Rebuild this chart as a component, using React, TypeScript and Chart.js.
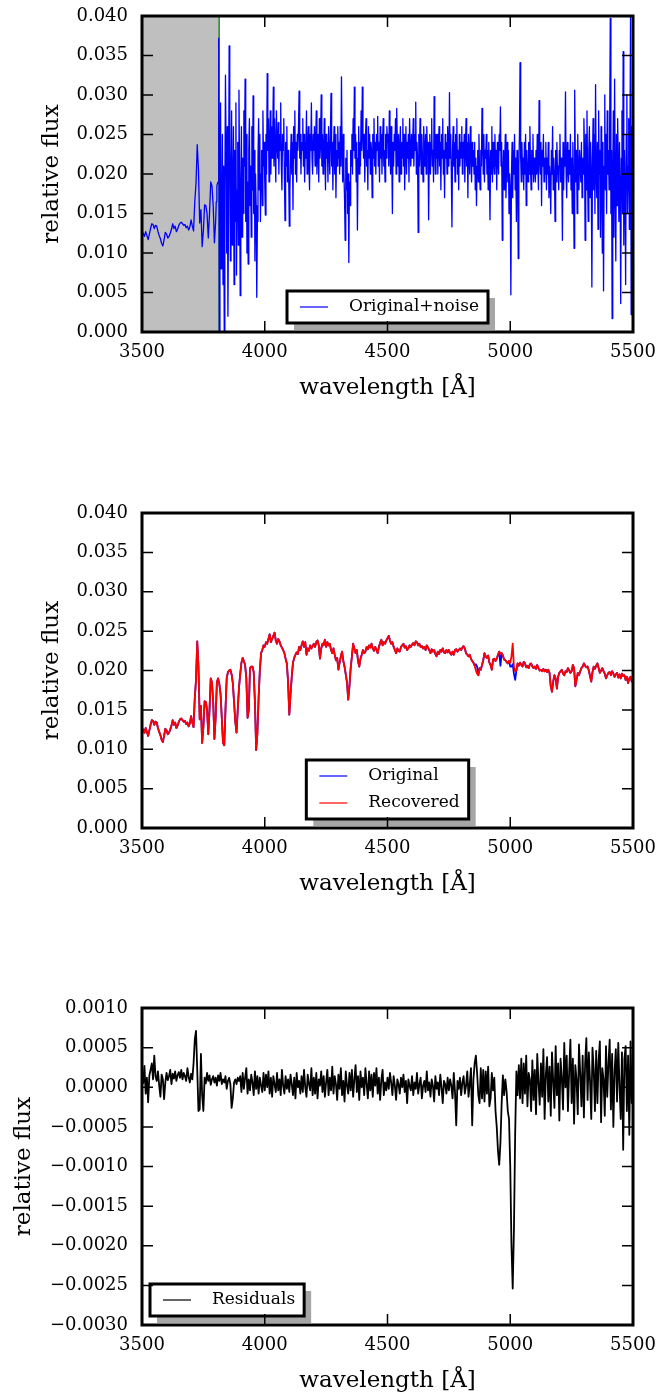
import React, { useEffect, useRef } from 'react';
import { Chart, registerables } from 'chart.js';

Chart.register(...registerables);

const FONT = "'DejaVu Serif', serif";

// Wavelength sampling grids (Å)
function grid(start: number, end: number, step: number): number[] {
  const n = Math.round((end - start) / step) + 1;
  return Array.from({ length: n }, (_, i) => start + step * i);
}
const wavelengths = grid(3500, 5500, 5); // 401 samples (panels 2, 3)
const maskedWavelengths = grid(3500, 3800, 5); // 61 samples (panel 1, noise-free part)
const noisyWavelengths = grid(3802.5, 5500, 2.5); // 680 samples (panel 1, noisy part)

// flux values are stored in units of 1e-4, residuals in units of 1e-5
const FLUX_UNIT = 1e-4;
const RESID_UNIT = 1e-5;

// Panel 1: masked (noise-free) part, 3500–3800 Å every 5 Å
const maskedFlux: number[] = [
  124,125,121,127,122,117,124,131,137,136, // 3500
  131,135,134,127,122,118,112,109,117,126, // 3550
  124,119,121,125,130,137,131,134,127,130, // 3600
  135,138,139,137,135,136,132,134,129,133, // 3650
  142,134,128,165,188,237,205,138,155,108, // 3700
  128,161,160,150,119,150,190,185,160,113, // 3750
  140, // 3800
];

// Panel 1: original + noise, 3802.5–5500 Å every 2.5 Å (20 values per row = 50 Å)
const noisyFlux: number[] = [
  165,185,188,190,372,0,240,290,80,130,250,60,210,0,180,325,230,100,260,20, // 3802.5
  150,362,240,90,200,280,110,170,260,60,230,140,290,72,180,240,110,306,200,46, // 3852.5
  180,260,120,220,150,280,210,320,140,250,100,190,86,230,270,160,210,120,260,180, // 3902.5
  299,150,230,90,200,160,44,140,220,270,180,250,140,200,230,160,280,210,240,190, // 3952.5
  148,250,200,327,230,270,190,240,280,200,260,220,250,310,210,270,230,190,280,240, // 4002.5
  220,265,200,250,230,290,210,180,250,230,270,200,141,240,210,260,190,230,200,134, // 4052.5
  180,220,250,200,240,155,260,220,280,200,240,190,250,230,260,305,220,250,200,240, // 4102.5
  230,270,210,250,190,240,220,280,200,230,260,210,180,250,230,290,220,200,250,230, // 4152.5
  260,210,240,280,200,230,250,190,270,220,240,300,210,250,200,230,270,220,180,250, // 4202.5
  220,240,190,260,230,200,250,302,210,240,180,230,260,200,250,170,230,210,260,220, // 4252.5
  240,200,260,210,323,230,190,250,200,170,116,220,180,230,150,200,88,190,160,230, // 4302.5
  210,250,200,270,230,310,220,250,190,240,129,220,260,200,240,210,280,230,310,250, // 4352.5
  220,250,190,240,270,210,230,180,260,220,250,200,240,230,170,250,220,270,210,240, // 4402.5
  200,250,230,273,210,240,190,260,220,250,200,240,270,210,230,190,250,220,260,240, // 4452.5
  250,210,280,230,200,260,220,150,240,210,250,230,270,200,283,240,210,250,190,230, // 4502.5
  260,200,240,220,270,210,250,180,230,260,200,240,220,250,190,270,230,210,250,220, // 4552.5
  240,270,210,250,230,291,200,240,220,126,250,210,270,230,200,250,220,190,260,230, // 4602.5
  210,250,200,260,230,240,142,220,250,200,240,270,210,230,190,298,240,200,250,220, // 4652.5
  250,200,230,260,210,240,180,250,220,270,200,230,170,250,220,240,200,260,230,210, // 4702.5
  303,220,250,200,133,230,260,210,240,190,250,220,270,200,230,180,250,210,240,220, // 4752.5
  260,200,240,220,250,190,230,270,210,240,170,250,220,200,260,230,190,240,210,230, // 4802.5
  200,240,180,220,160,210,230,190,250,200,180,230,210,283,240,200,250,190,230,220, // 4852.5
  250,200,230,180,240,210,142,230,200,260,190,240,220,200,250,210,230,180,240,220, // 4902.5
  200,250,230,285,210,240,116,200,230,180,220,250,170,210,240,190,230,150,200,180, // 4952.5
  47,200,240,170,230,200,250,180,220,140,230,200,93,210,250,341,220,190,240,200, // 5002.5
  220,180,240,200,250,160,230,210,190,240,200,260,210,180,230,200,250,190,220,210, // 5052.5
  190,230,200,250,210,180,293,220,200,240,160,230,210,250,190,220,200,240,180,220, // 5102.5
  200,240,170,210,190,150,230,200,260,180,220,200,140,230,190,240,200,210,180,230, // 5152.5
  250,190,220,200,116,240,180,230,210,304,200,170,240,210,190,230,200,250,180,220, // 5202.5
  150,240,200,106,306,220,190,230,150,250,200,180,230,210,190,240,170,220,200,270, // 5252.5
  230,116,250,180,280,200,140,230,260,170,240,200,57,220,270,180,250,150,313,200, // 5302.5
  170,240,130,280,200,230,120,260,190,100,240,52,210,300,180,250,150,280,200,230, // 5352.5
  180,260,397,150,230,17,200,280,120,320,190,90,250,160,270,210,140,240,180,36, // 5402.5
  220,280,150,355,110,230,180,60,250,300,150,210,270,130,230,400,22,260,180,240, // 5452.5
];

// Panel 2: original (noise-free) spectrum, every 5 Å
const originalFlux: number[] = [
  124,125,121,127,122,117,124,131,137,136, // 3500
  131,135,134,127,122,118,112,109,117,126, // 3550
  124,119,121,125,130,137,131,134,127,130, // 3600
  135,138,139,137,135,136,132,134,129,133, // 3650
  142,134,128,165,188,237,205,138,155,108, // 3700
  128,161,160,150,119,150,190,185,160,113, // 3750
  140,185,190,183,170,140,108,105,150,190, // 3800
  198,200,201,195,184,160,135,121,150,178, // 3850
  195,210,216,212,207,190,140,150,203,205, // 3900
  205,198,160,99,120,165,200,222,226,232, // 3950
  230,236,234,240,246,236,240,244,248,238, // 4000
  234,240,237,232,229,226,222,215,209,185, // 4050
  144,170,192,210,216,220,223,221,230,226, // 4100
  232,237,230,236,220,228,225,232,228,231, // 4150
  234,230,236,238,232,215,228,234,232,239, // 4200
  230,236,232,234,226,222,228,220,213,216, // 4250
  201,210,218,224,212,205,195,185,163,180, // 4300
  203,218,234,228,222,226,212,205,215,220, // 4350
  226,222,224,230,227,232,229,234,228,225, // 4400
  230,226,222,230,235,239,232,236,234,238, // 4450
  241,244,238,234,236,230,226,222,228,225, // 4500
  224,230,232,234,229,231,226,228,232,230, // 4550
  233,235,232,237,236,232,234,230,231,228, // 4600
  230,226,232,229,226,222,227,224,226,221, // 4650
  218,224,221,226,224,228,223,222,226,223, // 4700
  226,222,220,224,220,226,227,224,226,228, // 4750
  226,229,231,228,222,220,218,220,215,212, // 4800
  210,206,208,205,194,203,201,207,213,222, // 4850
  218,216,219,210,207,201,214,215,212,215, // 4900
  220,224,206,222,219,214,213,211,209,212, // 4950
  205,205,208,196,188,200,209,206,210,207, // 5000
  205,211,209,204,206,203,208,209,205,203, // 5050
  205,202,207,203,200,201,199,202,199,201, // 5100
  198,201,197,180,173,186,194,190,177,192, // 5150
  197,199,201,196,194,199,198,203,200,197, // 5200
  199,207,203,180,188,197,194,199,203,205, // 5250
  209,206,204,205,200,193,186,198,205,202, // 5300
  206,209,203,197,200,203,199,196,190,194, // 5350
  197,198,194,199,196,192,195,197,191,195, // 5400
  190,196,193,194,188,192,184,190,192,186, // 5450
  190, // 5500
];

// Panel 2: recovered spectrum, every 5 Å
const recoveredFlux: number[] = [
  124,125,121,127,122,117,124,131,137,136, // 3500
  131,135,134,127,122,118,112,109,117,126, // 3550
  124,119,121,125,130,137,131,134,127,130, // 3600
  135,138,139,137,135,136,132,134,129,133, // 3650
  142,134,128,165,188,237,205,138,155,108, // 3700
  128,161,160,150,119,150,190,185,160,113, // 3750
  140,185,190,183,170,140,108,105,150,190, // 3800
  198,200,201,195,184,160,135,121,150,178, // 3850
  195,210,216,212,207,190,140,150,203,205, // 3900
  205,198,160,99,120,165,200,222,226,232, // 3950
  230,236,234,240,246,236,240,244,248,238, // 4000
  234,240,237,232,229,226,222,215,209,185, // 4050
  144,170,192,210,216,220,223,221,230,226, // 4100
  232,237,230,236,220,228,225,232,228,231, // 4150
  234,230,236,238,232,215,228,234,232,239, // 4200
  230,236,232,234,226,222,228,220,213,216, // 4250
  201,210,218,224,212,205,195,185,163,180, // 4300
  203,218,234,228,222,226,212,205,215,220, // 4350
  226,222,224,230,227,232,229,234,228,225, // 4400
  230,226,222,230,235,239,232,236,234,238, // 4450
  241,244,238,234,236,230,226,222,228,225, // 4500
  224,230,232,234,229,231,226,228,232,230, // 4550
  233,235,232,237,236,232,234,230,231,228, // 4600
  230,226,232,229,226,222,227,224,226,221, // 4650
  218,224,221,226,224,228,223,222,226,223, // 4700
  226,222,220,224,220,226,227,224,226,228, // 4750
  226,229,231,228,222,220,218,220,215,212, // 4800
  210,206,200,196,194,203,201,207,213,222, // 4850
  218,216,219,210,207,201,214,215,212,215, // 4900
  220,224,222,222,219,214,213,211,209,212, // 4950
  210,218,234,205,199,200,209,206,210,207, // 5000
  205,211,209,204,206,203,208,209,205,203, // 5050
  205,202,207,203,200,201,199,202,199,201, // 5100
  198,201,197,180,173,186,194,190,177,192, // 5150
  197,199,201,196,194,199,198,203,200,197, // 5200
  199,207,203,180,188,197,194,199,203,205, // 5250
  209,206,204,205,200,193,186,198,205,202, // 5300
  206,209,203,197,200,203,199,196,190,194, // 5350
  197,198,194,199,196,192,195,197,191,195, // 5400
  190,196,193,194,188,192,184,190,192,186, // 5450
  190, // 5500
];

// Panel 3: residuals (units of 1e-5), every 5 Å
const residuals: number[] = [
  18,5,27,-8,12,-19,15,22,30,10, // 3500
  40,14,8,20,2,-12,16,10,-15,6, // 3550
  18,9,14,22,4,17,11,20,8,15, // 3600
  19,12,22,10,18,14,8,24,13,6, // 3650
  17,10,30,60,71,22,-30,-28,42,-10, // 3700
  -30,12,5,18,8,15,3,10,14,6, // 3750
  12,2,15,8,18,4,10,6,14,-2, // 3800
  8,12,4,-26,-14,6,10,4,12,8, // 3850
  14,-6,18,-2,12,24,-8,10,-4,16, // 3900
  6,-10,20,-2,14,-8,12,2,-6,18, // 3950
  -4,16,0,20,-8,12,-12,14,4,-6, // 4000
  18,-4,10,-10,22,2,-8,14,-2,10, // 4050
  -6,16,4,-10,12,-14,18,0,8,-8, // 4100
  14,-6,22,0,-12,16,4,-4,24,-10, // 4150
  12,-8,18,-14,10,2,20,-6,14,-12, // 4200
  6,22,-10,12,-4,26,-8,14,4,-16, // 4250
  16,-2,24,-10,8,-18,20,2,-8,18, // 4300
  -4,22,-12,10,28,-6,14,-16,20,0, // 4350
  12,-10,24,4,-14,20,-4,16,-12,18, // 4400
  2,24,-8,12,-16,10,22,-10,6,-4, // 4450
  12,-2,18,6,-10,14,2,-16,10,4, // 4500
  -8,12,0,16,-6,8,-20,10,2,-4, // 4550
  14,-10,6,-2,18,-8,4,12,-14,2, // 4600
  8,-6,20,-4,6,-12,10,2,-18,14, // 4650
  -2,6,-10,16,0,-20,8,4,-8,12, // 4700
  -4,10,2,-14,18,-6,-48,8,-2,12, // 4750
  -10,6,14,-8,2,20,-12,4,24,-48, // 4800
  10,30,40,18,-10,-20,24,-14,22,-18, // 4850
  20,-8,26,-24,-14,18,-4,12,-30,-50, // 4900
  -80,-98,-70,-20,15,-10,10,-5,-30,-40, // 4950
  -100,-200,-254,-180,-60,20,-10,28,-14,36, // 5000
  -20,30,-8,40,-24,18,10,-30,34,-16, // 5050
  22,-34,42,6,-22,30,-12,48,-40,16, // 5100
  38,-18,26,-36,44,8,-26,52,-10,30, // 5150
  -42,36,12,-28,56,0,40,-30,20,60, // 5200
  -20,36,-46,28,10,-34,54,18,-24,40, // 5250
  -38,30,62,-16,44,8,-40,50,22,-30, // 5300
  46,-20,34,58,-44,24,10,-36,52,-12, // 5350
  30,60,-28,42,-50,20,48,-18,56,2, // 5400
  -40,44,-79,36,52,-30,40,-60,58,-20, // 5450
  30, // 5500
];

// Ticks
const xTicks = [3500, 4000, 4500, 5000, 5500];
const xTickLabels = ['3500', '4000', '4500', '5000', '5500'];
const fluxTicks = [0, 0.005, 0.01, 0.015, 0.02, 0.025, 0.03, 0.035, 0.04];
const fluxTickLabels = ['0.000', '0.005', '0.010', '0.015', '0.020', '0.025', '0.030', '0.035', '0.040'];
const residTicks = [-0.003, -0.0025, -0.002, -0.0015, -0.001, -0.0005, 0, 0.0005, 0.001];
const residTickLabels = ['\u22120.0030', '\u22120.0025', '\u22120.0020', '\u22120.0015', '\u22120.0010', '\u22120.0005', '0.0000', '0.0005', '0.0010'];

// Masked region in panel 1 (Å)
const MASK_END = 3811;
const MARKER_WL = 3814;

const TICK_FONT = 18;
const TITLE_FONT = 23;
const LEGEND_FONT = 17;

const framePlugin = {
  id: 'frame',
  beforeDatasetsDraw(chart: any, _args: any, opts: any) {
    if (opts.maskEnd == null) return;
    const { ctx, chartArea: a } = chart;
    const xs = chart.scales.x;
    const xe = xs.getPixelForValue(opts.maskEnd);
    ctx.save();
    ctx.fillStyle = '#bfbfbf';
    ctx.fillRect(a.left, a.top, xe - a.left, a.bottom - a.top);
    const xm = xs.getPixelForValue(opts.marker);
    ctx.strokeStyle = '#1e7a1e';
    ctx.lineWidth = 1.5;
    ctx.beginPath();
    ctx.moveTo(xm, a.top);
    ctx.lineTo(xm, a.bottom);
    ctx.stroke();
    ctx.restore();
  },
  afterDraw(chart: any, _args: any, opts: any) {
    const { ctx, chartArea: a } = chart;
    const xs = chart.scales.x;
    const ys = chart.scales.y;
    ctx.save();
    // legend
    const items = opts.legend as { label: string; color: string }[];
    ctx.font = `${LEGEND_FONT}px ${FONT}`;
    const tw = Math.max(...items.map((it) => ctx.measureText(it.label).width));
    const padL = 13, lineLen = 28, gap = 21, padR = 9, padV = 16, rowGap = 27;
    const w = padL + lineLen + gap + tw + padR;
    const h = padV * 2 + (items.length - 1) * rowGap;
    const bx = opts.legendLoc === 'lower left' ? a.left + 8 : (a.left + a.right) / 2 - w / 2;
    const by = a.bottom - 9 - h;
    ctx.save();
    ctx.beginPath();
    ctx.rect(a.left, a.top, a.right - a.left, a.bottom - a.top);
    ctx.clip();
    ctx.fillStyle = '#a6a6a6';
    ctx.fillRect(bx + 7, by + 7, w, h);
    ctx.restore();
    ctx.fillStyle = '#ffffff';
    ctx.fillRect(bx, by, w, h);
    ctx.strokeStyle = '#000';
    ctx.lineWidth = 3;
    ctx.strokeRect(bx, by, w, h);
    items.forEach((it, i) => {
      const cy = by + padV + i * rowGap;
      ctx.strokeStyle = it.color;
      ctx.lineWidth = 1.2;
      ctx.beginPath();
      ctx.moveTo(bx + padL, cy);
      ctx.lineTo(bx + padL + lineLen, cy);
      ctx.stroke();
      ctx.fillStyle = '#000';
      ctx.textBaseline = 'middle';
      ctx.textAlign = 'left';
      ctx.fillText(it.label, bx + padL + lineLen + gap, cy);
    });
    // inward ticks on all four sides
    const L = 11;
    ctx.strokeStyle = '#000';
    ctx.lineWidth = 1.5;
    ctx.beginPath();
    xs.ticks.forEach((t: any) => {
      const px = xs.getPixelForValue(t.value);
      ctx.moveTo(px, a.bottom);
      ctx.lineTo(px, a.bottom - L);
      ctx.moveTo(px, a.top);
      ctx.lineTo(px, a.top + L);
    });
    ys.ticks.forEach((t: any) => {
      const py = ys.getPixelForValue(t.value);
      ctx.moveTo(a.left, py);
      ctx.lineTo(a.left + L, py);
      ctx.moveTo(a.right, py);
      ctx.lineTo(a.right - L, py);
    });
    ctx.stroke();
    // frame
    ctx.lineWidth = 3;
    ctx.strokeRect(a.left, a.top, a.right - a.left, a.bottom - a.top);
    ctx.restore();
  },
};

type Segment = { xs: number[]; values: number[] };
type Series = { label: string; segments: Segment[]; unit: number; color: string; width: number };
type PanelSpec = {
  canvasTop: number;
  canvasH: number;
  padTop: number;
  plotH: number;
  yTitlePad: number;
  yTicks: number[];
  yTickLabels: string[];
  series: Series[];
  legend: { label: string; color: string }[];
  legendLoc: string;
  mask: boolean;
};

const X_AXIS_H = 68;

const PANELS: PanelSpec[] = [
  {
    canvasTop: 0, canvasH: 497, padTop: 16, plotH: 316, yTitlePad: 40.5,
    yTicks: fluxTicks, yTickLabels: fluxTickLabels,
    series: [{
      label: 'Original+noise',
      segments: [{ xs: maskedWavelengths, values: maskedFlux }, { xs: noisyWavelengths, values: noisyFlux }],
      unit: FLUX_UNIT, color: '#0000ff', width: 1.3,
    }],
    legend: [{ label: 'Original+noise', color: '#0000ff' }],
    legendLoc: 'lower center', mask: true,
  },
  {
    canvasTop: 497, canvasH: 495, padTop: 16, plotH: 315, yTitlePad: 40.5,
    yTicks: fluxTicks, yTickLabels: fluxTickLabels,
    series: [
      { label: 'Recovered', segments: [{ xs: wavelengths, values: recoveredFlux }], unit: FLUX_UNIT, color: '#ff0000', width: 1.8 },
      { label: 'Original', segments: [{ xs: wavelengths, values: originalFlux }], unit: FLUX_UNIT, color: '#0000ff', width: 1.8 },
    ],
    legend: [{ label: 'Original', color: '#0000ff' }, { label: 'Recovered', color: '#ff0000' }],
    legendLoc: 'lower center', mask: false,
  },
  {
    canvasTop: 988, canvasH: 405, padTop: 20, plotH: 317, yTitlePad: 12.5,
    yTicks: residTicks, yTickLabels: residTickLabels,
    series: [{ label: 'Residuals', segments: [{ xs: wavelengths, values: residuals }], unit: RESID_UNIT, color: '#000000', width: 1.8 }],
    legend: [{ label: 'Residuals', color: '#000000' }],
    legendLoc: 'lower left', mask: false,
  },
];

function makeConfig(p: PanelSpec): any {
  const padBottom = p.canvasH - p.padTop - p.plotH - X_AXIS_H;
  return {
    type: 'line',
    data: {
      datasets: p.series.map((s) => ({
        label: s.label,
        data: s.segments.flatMap((seg) => seg.xs.map((w, i) => ({ x: w, y: seg.values[i] * s.unit }))),
        borderColor: s.color,
        borderWidth: s.width,
        borderJoinStyle: 'round',
        pointRadius: 0,
        tension: 0,
        fill: false,
      })),
    },
    options: {
      responsive: false,
      animation: false,
      events: [],
      layout: { padding: { top: p.padTop, right: 26, bottom: padBottom, left: 0 } },
      plugins: {
        legend: { display: false },
        tooltip: { enabled: false },
        frame: {
          maskEnd: p.mask ? MASK_END : null,
          marker: MARKER_WL,
          legend: p.legend,
          legendLoc: p.legendLoc,
        },
      },
      scales: {
        x: {
          type: 'linear',
          min: 3500,
          max: 5500,
          grid: { display: false, drawTicks: false },
          border: { display: false },
          afterBuildTicks: (s: any) => { s.ticks = xTicks.map((v) => ({ value: v })); },
          afterFit: (s: any) => { s.height = X_AXIS_H; s.paddingLeft = 0; s.paddingRight = 0; },
          ticks: {
            callback: (_v: any, i: number) => xTickLabels[i],
            autoSkip: false,
            maxRotation: 0,
            padding: 10,
            color: '#000',
            font: { family: FONT, size: TICK_FONT },
          },
          title: {
            display: true,
            text: 'wavelength [Å]',
            color: '#000',
            font: { family: FONT, size: TITLE_FONT, lineHeight: 1 },
            padding: { top: 0, bottom: 0 },
          },
        },
        y: {
          type: 'linear',
          min: p.yTicks[0],
          max: p.yTicks[p.yTicks.length - 1],
          grid: { display: false, drawTicks: false },
          border: { display: false },
          afterBuildTicks: (s: any) => { s.ticks = p.yTicks.map((v) => ({ value: v })); },
          afterFit: (s: any) => { s.width = 142; s.paddingTop = 0; s.paddingBottom = 0; },
          ticks: {
            callback: (_v: any, i: number) => p.yTickLabels[i],
            autoSkip: false,
            padding: 14,
            color: '#000',
            font: { family: FONT, size: TICK_FONT },
          },
          title: {
            display: true,
            text: 'relative flux',
            color: '#000',
            font: { family: FONT, size: TITLE_FONT, lineHeight: 1 },
            padding: { top: p.yTitlePad, bottom: 0 },
          },
        },
      },
    },
    plugins: [framePlugin],
  };
}

export default function App() {
  const r0 = useRef<HTMLCanvasElement>(null);
  const r1 = useRef<HTMLCanvasElement>(null);
  const r2 = useRef<HTMLCanvasElement>(null);
  const refs = [r0, r1, r2];

  useEffect(() => {
    const charts = PANELS.map((p, i) => new Chart(refs[i].current as HTMLCanvasElement, makeConfig(p)));
    return () => charts.forEach((c) => c.destroy());
  }, []);

  return (
    <div style={{ position: 'absolute', left: 0, top: 0, width: 659, height: 1393, overflow: 'hidden', background: '#fff' }}>
      {PANELS.map((p, i) => (
        <canvas
          key={i}
          ref={refs[i]}
          width={659}
          height={p.canvasH}
          style={{ position: 'absolute', left: 0, top: p.canvasTop, width: 659, height: p.canvasH, display: 'block' }}
        />
      ))}
    </div>
  );
}
